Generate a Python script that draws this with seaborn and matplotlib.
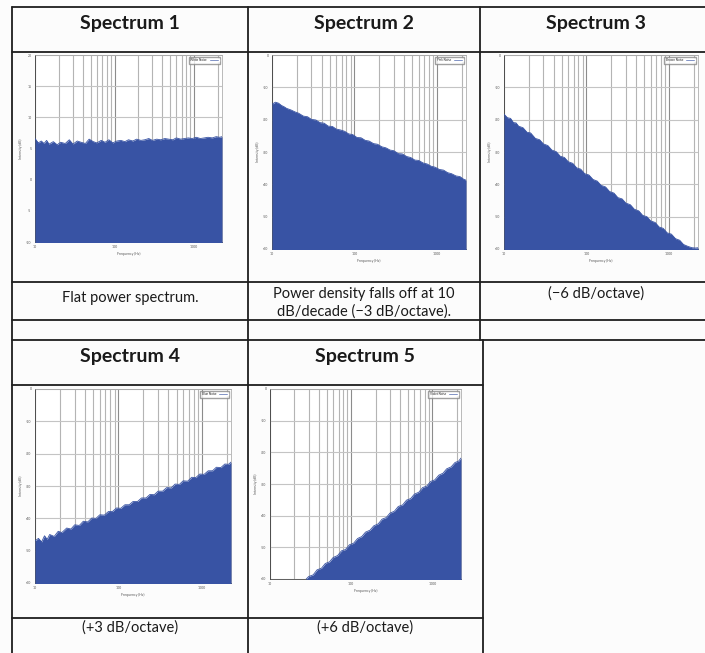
import matplotlib
matplotlib.use("Agg")
import matplotlib.pyplot as plt
from matplotlib.lines import Line2D
from matplotlib.patches import Patch
from matplotlib.ticker import FixedLocator, LogLocator, NullFormatter
import pandas as pd
import seaborn as sns

# ------------------------------------------------------------------
# data (frequency in Hz, intensity in dB)
# ------------------------------------------------------------------
freq_hz = [10, 11, 12, 13, 14, 15, 17, 19, 21, 24, 27, 30, 34, 38, 43, 48, 54, 60, 68, 76,
           85, 95, 107, 120, 135, 150, 170, 190, 215, 240, 270, 300, 340, 380, 430, 480,
           540, 600, 680, 760, 850, 950, 1070, 1200, 1350, 1500, 1700, 1900, 2100, 2250]

white_db = [6.6, 5.9, 6.2, 5.8, 6.3, 5.7, 6.1, 5.6, 6.0, 5.8, 6.4, 5.7, 6.2, 6.0, 5.8, 6.5,
            6.1, 5.9, 6.3, 6.0, 6.4, 5.9, 6.2, 6.3, 6.1, 6.4, 6.2, 6.5, 6.3, 6.4, 6.6, 6.3,
            6.5, 6.4, 6.6, 6.5, 6.4, 6.7, 6.5, 6.6, 6.7, 6.6, 6.8, 6.6, 6.7, 6.8, 6.7, 6.9,
            6.8, 6.9]

pink_db = [-15.2, -14.6, -14.9, -15.6, -16.0, -16.5, -17.0, -17.6, -18.0, -18.9, -19.1, -19.9,
           -20.1, -20.9, -21.1, -22.0, -22.1, -22.9, -23.2, -23.6, -24.4, -24.6, -25.5, -25.6,
           -26.4, -26.6, -27.4, -27.6, -28.4, -28.7, -29.4, -29.6, -30.5, -30.6, -31.4, -31.7,
           -32.5, -32.6, -33.4, -33.7, -34.4, -34.7, -35.4, -35.6, -36.4, -36.7, -37.4, -37.6,
           -38.4, -38.7]

brown_db = [-18.3, -19.4, -19.6, -20.9, -21.0, -22.0, -22.5, -23.9, -24.1, -25.8, -26.2, -27.5,
            -28.0, -29.4, -29.9, -31.3, -31.7, -33.0, -33.5, -34.9, -35.3, -36.7, -37.1, -38.5,
            -39.0, -40.3, -40.8, -42.2, -42.7, -44.1, -44.5, -45.8, -46.3, -47.7, -48.2, -49.6,
            -50.0, -51.3, -51.8, -53.2, -53.6, -55.0, -55.4, -56.8, -57.3, -58.6, -59.2, -59.6,
            -59.7, -59.6]

blue_db = [-47.0, -46.2, -47.3, -45.4, -46.5, -45.0, -45.6, -44.0, -44.4, -43.0, -43.3, -42.0,
           -42.2, -40.9, -41.1, -39.9, -40.0, -38.9, -39.0, -37.9, -37.9, -36.8, -36.9, -35.8,
           -35.8, -34.8, -34.8, -33.7, -33.7, -32.6, -32.7, -31.6, -31.6, -30.5, -30.6, -29.4,
           -29.5, -28.4, -28.5, -27.3, -27.4, -26.3, -26.4, -25.3, -25.3, -24.2, -24.3, -23.2,
           -23.3, -22.6]

violet_db = [-69.0, -68.2, -67.5, -66.8, -66.1, -65.5, -64.4, -63.5, -62.6, -61.4, -60.4, -59.2,
             -58.7, -57.1, -56.6, -55.1, -54.6, -53.2, -52.6, -51.1, -50.7, -49.2, -48.7, -47.2,
             -46.6, -45.2, -44.6, -43.2, -42.6, -41.1, -40.6, -39.2, -38.6, -37.1, -36.6, -35.1,
             -34.6, -33.2, -32.6, -31.1, -30.7, -29.2, -28.7, -27.2, -26.6, -25.2, -24.6, -23.2,
             -22.8, -21.8]

titles = ["Spectrum 1", "Spectrum 2", "Spectrum 3", "Spectrum 4", "Spectrum 5"]
legend_names = ["White Noise", "Pink Noise", "Brown Noise", "Blue Noise", "Violet Noise"]
captions = ["Flat power spectrum.",
            "Power density falls off at 10\ndB/decade (\u22123 dB/octave).",
            "(\u22126 dB/octave)",
            "(+3 dB/octave)",
            "(+6 dB/octave)"]
yticks_white = [-10, -5, 0, 5, 10, 15, 20]
yticks_other = [-60, -50, -40, -30, -20, -10, 0]
xtick_vals = [10, 100, 1000]
xtick_labels = ["10", "100", "1000"]

series = [white_db, pink_db, brown_db, blue_db, violet_db]
yticks = [yticks_white, yticks_other, yticks_other, yticks_other, yticks_other]

# ------------------------------------------------------------------
# layout (pixels of the 705x653 image)
# ------------------------------------------------------------------
W, H = 705, 653
FILL = "#3853a4"

# axes boxes: x0, y0 (top), x1, y1 (bottom)
ax_boxes = [(35, 55, 222, 242), (272, 55, 466, 249), (504, 55, 698, 249),
            (35, 389, 231, 583), (270, 389, 461, 579)]
title_pos = [(130, 29), (364, 29), (596, 29), (130, 362), (365, 362)]
# baseline of the last caption line
caption_pos = [(130, 302), (364, 316), (596, 298), (130, 632), (365, 632)]

sns.set_theme(style="white")
plt.rcParams["font.family"] = ["Lato", "DejaVu Sans"]

fig = plt.figure(figsize=(W / 100, H / 100), dpi=100)
fig.patch.set_facecolor("#fcfcfc")


def fx(x):
    return x / W


def fy(y):
    return 1 - y / H


def hline(y, x0, x1):
    fig.add_artist(Line2D([fx(x0), fx(x1)], [fy(y), fy(y)], color="#1e1e1e", lw=1.3,
                          transform=fig.transFigure))


def vline(x, y0, y1):
    fig.add_artist(Line2D([fx(x), fx(x)], [fy(y0), fy(y1)], color="#1e1e1e", lw=1.3,
                          transform=fig.transFigure))


# table grid
for yy in [7, 52, 282, 320, 340]:
    hline(yy, 12, 705)
for yy in [385, 618]:
    hline(yy, 12, 483)
vline(12, 7, 653)
vline(248, 7, 653)
vline(480, 7, 340)
vline(483, 340, 653)

for i in range(5):
    x0, y0, x1, y1 = ax_boxes[i]
    ax = fig.add_axes([fx(x0), fy(y1), fx(x1 - x0), (y1 - y0) / H])
    ax.set_facecolor("white")

    df = pd.DataFrame({"freq": freq_hz, "db": series[i]})
    lo = yticks[i][0]
    ax.fill_between(df["freq"], lo - 20, df["db"], color=FILL, lw=0, zorder=3)
    sns.lineplot(data=df, x="freq", y="db", ax=ax, color=FILL, lw=0.6, zorder=4)

    ax.set_xscale("log")
    ax.set_xlim(10, 2250)
    ax.set_ylim(yticks[i][0], yticks[i][-1])
    ax.xaxis.set_major_locator(FixedLocator(xtick_vals))
    ax.set_xticklabels(xtick_labels)
    ax.xaxis.set_minor_locator(LogLocator(base=10, subs=range(2, 10)))
    ax.xaxis.set_minor_formatter(NullFormatter())
    ax.set_yticks(yticks[i])
    ax.set_yticklabels([str(v) for v in yticks[i]])

    ax.grid(True, which="major", axis="x", color="#8c8c8c", lw=0.8, zorder=1)
    ax.grid(True, which="minor", axis="x", color="#b4b4b4", lw=0.8, zorder=1)
    ax.grid(True, which="major", axis="y", color="#c4c4c4", lw=0.8, zorder=1)

    ax.tick_params(axis="both", which="both", labelsize=2.5, length=1, width=0.3,
                   pad=1.5, colors="#555555")
    ax.set_xlabel("Frequency (Hz)", fontsize=2.5, labelpad=2, color="#555555")
    ax.set_ylabel("Intensity (dB)", fontsize=2.5, labelpad=2, color="#555555")
    for side in ["left", "bottom"]:
        ax.spines[side].set_color("#444444")
        ax.spines[side].set_linewidth(0.6)
    for side in ["top", "right"]:
        ax.spines[side].set_color("#a0a0a0")
        ax.spines[side].set_linewidth(0.5)

    ax.legend(handles=[Patch(facecolor=FILL, label=legend_names[i])], loc="upper right",
              fontsize=2.2, frameon=True, fancybox=False, edgecolor="#888888",
              handlelength=3, handleheight=0.6, borderpad=0.5, markerfirst=False,
              borderaxespad=0.6)

    tx, ty = title_pos[i]
    fig.text(fx(tx), fy(ty), titles[i], ha="center", va="baseline", fontsize=14,
             fontweight="bold", color="#1a1a1a")
    cx, cy = caption_pos[i]
    fig.text(fx(cx), fy(cy), captions[i], ha="center", va="baseline", fontsize=10.5,
             color="#1a1a1a", linespacing=1.3)

fig.savefig("out.png", dpi=100, facecolor=fig.get_facecolor())
